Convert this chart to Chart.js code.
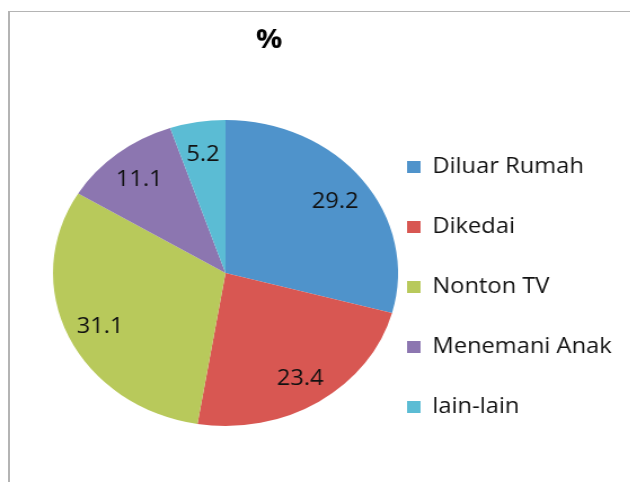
<!DOCTYPE html>
<html>
<head>
<meta charset="utf-8">
<script src="https://cdn.jsdelivr.net/npm/chart.js@4.4.1/dist/chart.umd.min.js"></script>
<style>
  html, body { margin: 0; padding: 0; background: #fff; overflow: hidden; }
  #frame {
    position: absolute; left: 8px; top: 11px; width: 700px; height: 600px;
    border-left: 2px solid #b4b4b4; border-top: 1px solid #b4b4b4;
  }
  /* original picture is stretched sideways, so the canvas is too */
  #chart { position: absolute; left: 0; top: 0; transform: scaleX(1.1275); transform-origin: 0 0; }
</style>
</head>
<body>
<div id="frame"></div>
<canvas id="chart" width="559" height="482"></canvas>
<script>
const categories = ["Diluar Rumah", "Dikedai", "Nonton TV", "Menemani Anak", "lain-lain"];
const values = [29.2, 23.4, 31.1, 11.1, 5.2];
const sliceColors = ["#4f93cb", "#d85752", "#b8c95b", "#8c76b0", "#5bbcd4"];
const chartTitle = "%";

// value labels inside the slices
const sliceLabels = {
  id: "sliceLabels",
  afterDatasetsDraw(chart) {
    const ctx = chart.ctx;
    const meta = chart.getDatasetMeta(0);
    ctx.save();
    ctx.font = "21px 'Open Sans'";
    ctx.fillStyle = "#111";
    ctx.textAlign = "center";
    ctx.textBaseline = "middle";
    meta.data.forEach((arc, i) => {
      const p = arc.getProps(["x", "y", "startAngle", "endAngle", "outerRadius"], true);
      const mid = (p.startAngle + p.endAngle) / 2;
      const r = p.outerRadius * 0.8;
      ctx.fillText(values[i].toFixed(1), p.x + Math.cos(mid) * r, p.y + Math.sin(mid) * r + 3);
    });
    ctx.restore();
  },
};

// legend box is kept narrow so the title stays off-centre; let its text run to the edge
const wideLegend = {
  id: "wideLegend",
  afterLayout(chart) {
    chart.legend.right = chart.width;
    chart.legend.width = chart.legend.right - chart.legend.left;
  },
};

const ctx = document.getElementById("chart").getContext("2d");
new Chart(ctx, {
  type: "pie",
  data: {
    labels: categories,
    datasets: [
      {
        data: values,
        backgroundColor: sliceColors,
        borderWidth: 0,
        radius: 153,
        clip: false,
      },
    ],
  },
  options: {
    responsive: false,
    animation: false,
    layout: {
      padding: { left: 78, right: 159.8, top: 25, bottom: 25.5 },
    },
    plugins: {
      tooltip: { enabled: false },
      title: {
        display: true,
        text: chartTitle,
        color: "#000",
        font: { family: "'Open Sans'", size: 26, weight: "bold" },
        padding: { top: 0, bottom: 33.3 },
      },
      legend: {
        position: "right",
        align: "end",
        maxWidth: 77.2,
        labels: {
          color: "#111",
          font: { family: "'Open Sans'", size: 21 },
          boxWidth: 12,
          boxHeight: 12,
          padding: 39,
        },
      },
    },
  },
  plugins: [sliceLabels, wideLegend],
});
</script>
</body>
</html>
